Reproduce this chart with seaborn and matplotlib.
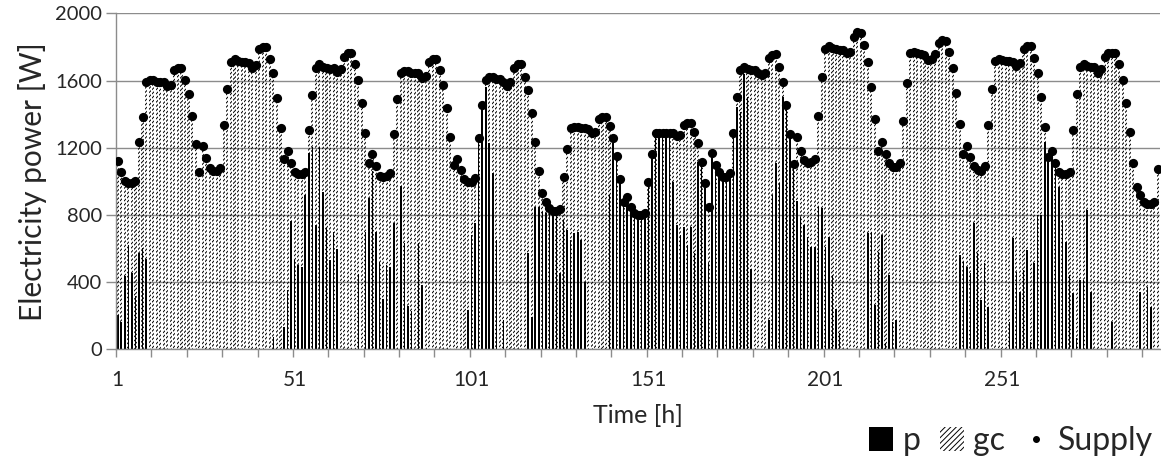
import numpy as np
import pandas as pd
import matplotlib
matplotlib.use('Agg')
import matplotlib.pyplot as plt
import seaborn as sns
from matplotlib.patches import Patch
from matplotlib.lines import Line2D

# Supply [W] per hour (dots)
supply = [1121, 1058, 1004, 988, 988, 1002, 1236, 1385, 1593, 1605,
          1605, 1593, 1593, 1590, 1565, 1575, 1660, 1676, 1672, 1603,
          1520, 1389, 1222, 1058, 1212, 1137, 1077, 1063, 1063, 1077,
          1335, 1550, 1712, 1726, 1718, 1708, 1708, 1706, 1672, 1692,
          1786, 1802, 1798, 1726, 1643, 1494, 1315, 1135, 1180, 1111,
          1058, 1044, 1044, 1058, 1305, 1514, 1672, 1698, 1682, 1672,
          1668, 1672, 1652, 1666, 1742, 1766, 1762, 1698, 1603, 1468,
          1286, 1111, 1163, 1091, 1032, 1024, 1032, 1048, 1280, 1490,
          1647, 1659, 1659, 1647, 1643, 1643, 1613, 1627, 1712, 1728,
          1728, 1663, 1573, 1434, 1266, 1097, 1131, 1067, 1012, 998,
          998, 1018, 1256, 1454, 1603, 1623, 1623, 1607, 1607, 1590,
          1567, 1593, 1672, 1696, 1696, 1623, 1544, 1405, 1236, 1063,
          933, 879, 839, 825, 825, 835, 1028, 1192, 1319, 1325,
          1325, 1315, 1315, 1309, 1286, 1296, 1369, 1385, 1381, 1329,
          1260, 1153, 1014, 879, 905, 849, 813, 800, 800, 810,
          998, 1163, 1286, 1290, 1290, 1286, 1286, 1286, 1270, 1276,
          1335, 1349, 1349, 1296, 1230, 1117, 988, 849, 1171, 1099,
          1054, 1028, 1028, 1052, 1290, 1500, 1663, 1682, 1667, 1663,
          1663, 1645, 1630, 1643, 1732, 1752, 1756, 1682, 1593, 1452,
          1282, 1101, 1262, 1182, 1127, 1111, 1117, 1131, 1391, 1619,
          1786, 1805, 1792, 1786, 1782, 1782, 1762, 1770, 1861, 1891,
          1885, 1811, 1708, 1563, 1371, 1182, 1236, 1163, 1107, 1087,
          1085, 1107, 1361, 1583, 1762, 1772, 1765, 1756, 1752, 1722,
          1726, 1760, 1825, 1841, 1835, 1772, 1672, 1528, 1341, 1163,
          1212, 1143, 1091, 1067, 1063, 1091, 1335, 1548, 1718, 1726,
          1722, 1718, 1718, 1712, 1686, 1702, 1786, 1805, 1805, 1732,
          1643, 1500, 1321, 1147, 1182, 1111, 1058, 1044, 1044, 1058,
          1305, 1520, 1682, 1698, 1686, 1682, 1678, 1647, 1667, 1740,
          1762, 1766, 1766, 1698, 1603, 1464, 1292, 1111, 968, 919,
          879, 865, 865, 879, 1071]

# p [W] per hour (black part of each column)
p = [204, 165, 436, 621, 452, 317, 575, 601, 540, 0,
     0, 0, 0, 0, 0, 0, 0, 0, 0, 0,
     0, 0, 0, 0, 0, 0, 0, 0, 0, 0,
     0, 0, 0, 0, 0, 0, 0, 0, 0, 0,
     0, 0, 0, 0, 75, 0, 0, 135, 353, 766,
     532, 502, 492, 919, 1167, 1206, 740, 1206, 938, 720,
     532, 700, 600, 0, 0, 0, 0, 0, 450, 0,
     700, 900, 1060, 700, 520, 300, 502, 492, 750, 0,
     970, 630, 260, 230, 0, 630, 380, 0, 0, 0,
     0, 0, 0, 0, 0, 0, 0, 0, 0, 234,
     680, 750, 1256, 1448, 1560, 1226, 1048, 651, 0, 175,
     0, 0, 0, 0, 0, 0, 571, 194, 849, 849,
     819, 810, 810, 800, 800, 452, 770, 710, 651, 690,
     700, 650, 400, 0, 0, 0, 0, 0, 0, 918,
     1226, 1153, 1014, 879, 905, 849, 813, 800, 800, 810,
     998, 1163, 1286, 1290, 1290, 1286, 1286, 998, 740, 680,
     730, 621, 730, 571, 1117, 1117, 988, 512, 1171, 1099,
     1054, 1028, 1028, 1052, 1290, 1440, 1410, 1640, 1500, 480,
     0, 0, 0, 0, 175, 919, 1107, 988, 1504, 1452,
     1282, 1101, 885, 790, 740, 667, 611, 611, 853, 839,
     611, 670, 442, 238, 95, 0, 0, 0, 0, 0,
     0, 0, 690, 700, 264, 581, 680, 36, 442, 165,
     175, 0, 0, 0, 0, 0, 0, 0, 0, 0,
     0, 0, 0, 0, 0, 0, 0, 0, 561, 522,
     492, 452, 754, 571, 294, 512, 250, 0, 0, 0,
     0, 0, 165, 661, 462, 343, 472, 591, 46, 512,
     800, 800, 1236, 1147, 1157, 1111, 968, 770, 641, 442,
     333, 65, 413, 413, 829, 343, 0, 0, 0, 0,
     0, 165, 0, 0, 0, 0, 0, 0, 0, 343,
     0, 373, 254, 0, 0]

hours = list(range(1, len(supply) + 1))
y_ticks = [0, 400, 800, 1200, 1600, 2000]
x_labels = [1, 51, 101, 151, 201, 251]

df = pd.DataFrame({'hour': hours, 'supply': supply, 'p': p})

sns.set_theme(style='white')
plt.rcParams['font.family'] = ['Lato', 'DejaVu Sans']
plt.rcParams['hatch.linewidth'] = 0.7
grey = '#8c8c8c'

fig = plt.figure(figsize=(11.61, 4.61), dpi=100)
ax = fig.add_axes([0.0999, 0.2423, 0.8990, 0.7288])
ax.set_axisbelow(True)
ax.yaxis.grid(True, color=grey, linewidth=1)

# gc on top of p: draw full column hatched, then p in black over it
sns.barplot(data=df, x='hour', y='supply', native_scale=True, fill=False,
            color='black', hatch='////////', linewidth=0, width=0.6,
            errorbar=None, ax=ax)
sns.barplot(data=df, x='hour', y='p', native_scale=True, color='black',
            saturation=1, linewidth=0, width=0.45, errorbar=None, ax=ax)
sns.scatterplot(data=df, x='hour', y='supply', color='black', s=44,
                linewidth=0, zorder=3, legend=False, ax=ax)

ax.set_xlim(0.5, len(hours) + 0.5)
ax.set_ylim(0, 2000)
ax.set_yticks(y_ticks)
ax.set_xticks(np.arange(0.5, len(hours) - 4, 10))
ax.set_xticklabels([])
ax.set_xticks(x_labels, minor=True)
ax.set_xticklabels([str(v) for v in x_labels], minor=True)
ax.tick_params(axis='x', which='major', bottom=True, length=6, width=1, color=grey)
ax.tick_params(axis='x', which='minor', bottom=True, length=0, labelsize=15, pad=15)
ax.tick_params(axis='y', left=True, length=7, width=1, color=grey, labelsize=14.5, pad=3)
sns.despine(ax=ax)
for s in ['left', 'bottom']:
    ax.spines[s].set_color(grey)
    ax.spines[s].set_linewidth(1)

ax.set_xlabel('Time [h]', fontsize=18, labelpad=10)
ax.set_ylabel('Electricity power [W]', fontsize=21.5, labelpad=6)

handles = [Patch(facecolor='black', edgecolor='black', linewidth=0),
           Patch(facecolor='white', edgecolor='black', linewidth=0, hatch='//////'),
           Line2D([], [], linestyle='none', marker='o', markersize=4, color='black')]
fig.legend(handles, ['p', 'gc', 'Supply'], loc='lower right',
           bbox_to_anchor=(1.018, -0.052), ncol=3, frameon=False, fontsize=23,
           handlelength=0.75, handleheight=0.75, handletextpad=0.3,
           columnspacing=0.6)

fig.savefig('out.png', dpi=100)
